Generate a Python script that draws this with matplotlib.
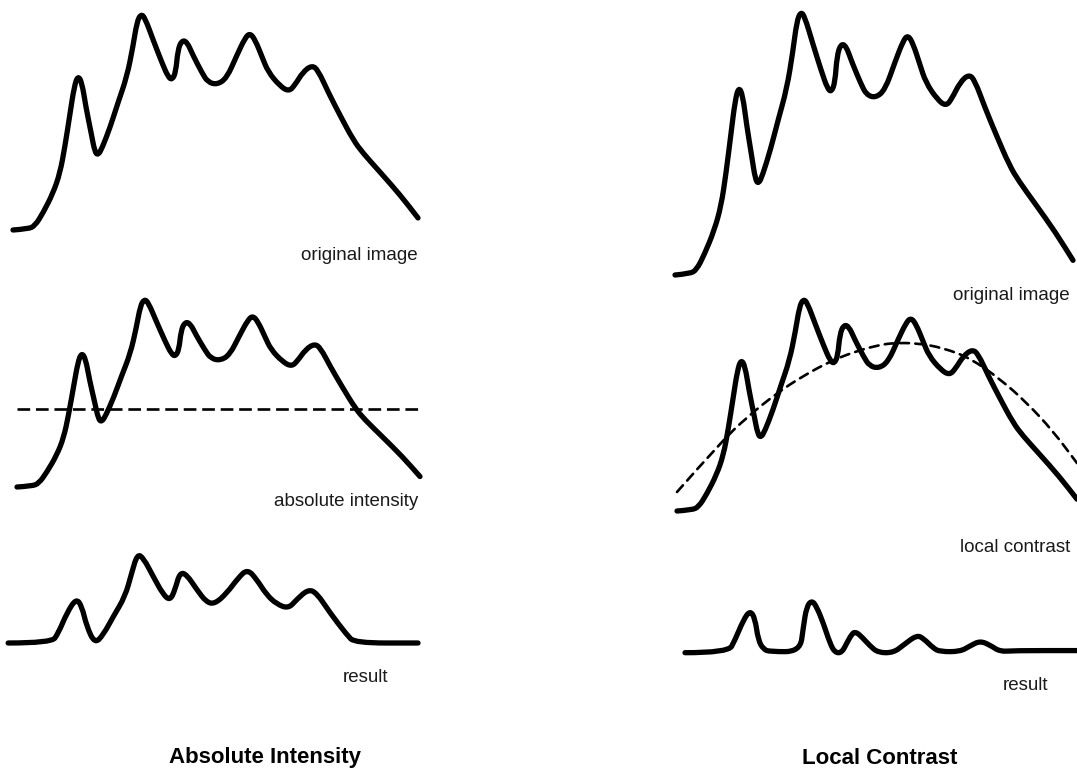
import matplotlib
matplotlib.use("Agg")
import matplotlib.pyplot as plt
from matplotlib.path import Path
from matplotlib.patches import PathPatch

plt.rcParams['font.family'] = ['Liberation Sans', 'DejaVu Sans']

# intensity profile of the "original image" (x: position 0-100, y: intensity 0-100)
profile_x = [0, 3.7, 5.4, 7.4, 9.9, 11.6, 12.8, 14.1, 15.1, 16.0, 17.0, 18.0, 19.3, 20.2,
             21.0, 22.0, 24.0, 25.9, 28.1, 29.6, 30.6, 31.6, 32.6, 34.6, 36.8, 38.3, 39.3,
             40.2, 40.7, 41.7, 43.0, 44.4, 46.7, 48.1, 50.4, 52.8, 55.3, 57.3, 58.5, 59.8,
             61.5, 63.0, 65.9, 68.1, 69.6, 71.6, 73.8, 75.3, 77.8, 80.7, 84.0, 86.4, 90.6,
             95.6, 100]
profile_y = [0, 0.5, 1.9, 7.9, 17.2, 26.5, 38.6, 54.4, 66.5, 71.8, 68.8, 57.2, 45.1, 36.3,
             34.8, 38.1, 47.9, 59.1, 71.2, 85.1, 96.8, 100.5, 98.6, 88.4, 77.7, 71.2, 69.8,
             73.5, 83.7, 88.3, 87.4, 81.4, 73.0, 68.8, 67.6, 70.7, 81.4, 89.3, 91.6, 88.4,
             80.5, 73.5, 67.0, 64.4, 67.4, 73.5, 76.6, 74.4, 64.2, 53.5, 41.9, 35.8, 27.0,
             16.3, 5.6]

# absolute intensity threshold
threshold = 41.7

# result of the absolute threshold
abs_x = [-1.2, 9.5, 11.2, 13.3, 15.6, 17.0, 18.2, 20.2, 22.3, 24.8, 27.7, 29.3, 30.7, 32.2,
         34.6, 37.1, 38.8, 40.0, 41.2, 42.9, 45.4, 47.8, 49.9, 52.8, 55.6, 57.9, 60.2, 62.6,
         65.1, 68.0, 70.0, 72.9, 75.0, 78.3, 82.4, 84.4, 100]
abs_y = [0, 0, 6.6, 19.9, 29.6, 24.3, 11.0, -0.5, 5.5, 17.7, 30.9, 46.4, 59.0, 56.3,
         44.2, 32.0, 28.2, 35.3, 46.8, 45.3, 35.3, 26.9, 26.0, 33.1, 43.1, 49.0, 42.0, 32.0,
         25.8, 22.8, 28.7, 35.6, 33.1, 19.9, 5.5, 0, 0]

# local background (smooth dashed curve)
local_x = [0, 10.75, 17.5, 25, 31.5, 39, 45.75, 50.75, 54, 60, 66.5, 73.25, 80.75, 87.5, 94, 100]
local_y = [9.0, 32.2, 44.5, 55.9, 64.0, 71.6, 76.3, 78.7, 79.6, 79.6, 77.3, 72.5, 62.6, 51.2, 37.9, 22.7]

# result of the local contrast
loc_x = [2.0, 12.8, 14.5, 16.6, 18.25, 19.5, 20.3, 21.6, 23.25, 30.75, 31.6, 32.4, 33.7, 34.9,
         36.6, 38.25, 39.5, 41.2, 42.4, 43.7, 44.5, 45.75, 48.25, 50.3, 54.1, 56.6, 59.9,
         61.6, 64.1, 65.75, 70.75, 73.25, 75.75, 78.25, 80.75, 84.1, 99.9]
loc_y = [0, 0, 6.0, 15.5, 20.0, 16.3, 6.0, 1.6, 0.5, 0.5, 12.3, 21.8, 24.8, 21.8,
         13.9, 4.4, 0, 0, 4.4, 8.8, 9.9, 8.4, 3.2, 0, 0, 3.6, 8.3,
         6.8, 2.1, 0.5, 0.5, 3.2, 5.6, 3.6, 0.5, 1.0, 1.0]

W, H = 1077, 774
fig = plt.figure(figsize=(W / 100, H / 100), dpi=100)


def panel(left, right, base, top, ymax):
    # left/right/base/top in pixels of the figure
    ax = fig.add_axes([left / W, 1 - base / H, (right - left) / W, (base - top) / H])
    ax.set_xlim(0, 100)
    ax.set_ylim(0, ymax)
    ax.axis('off')
    return ax


def curve(ax, xs, ys, **kw):
    # points are used as quadratic bezier controls so the stroke is smooth
    pts = list(zip(xs, ys))
    verts = [pts[0]]
    codes = [Path.MOVETO]
    for i in range(1, len(pts) - 1):
        mid = ((pts[i][0] + pts[i + 1][0]) / 2, (pts[i][1] + pts[i + 1][1]) / 2)
        verts += [pts[i], mid]
        codes += [Path.CURVE3, Path.CURVE3]
    verts.append(pts[-1])
    codes.append(Path.LINETO)
    patch = PathPatch(Path(verts, codes), fill=False, edgecolor='black',
                      joinstyle='round', capstyle='round', clip_on=False, **kw)
    ax.add_patch(patch)


lw = 3.8

# left column
ax = panel(13, 418, 230, 15, 100)
curve(ax, profile_x, profile_y, lw=lw)

ax = panel(17, 420, 487, 300, 100)
curve(ax, profile_x, profile_y, lw=lw)
ax.plot([0, 100], [threshold, threshold], color='black', lw=1.9, dashes=(4.8, 2.2), clip_on=False)

ax = panel(13, 418, 643, 555, 58.3)
curve(ax, abs_x, abs_y, lw=lw)

# right column
ax = panel(675, 1073, 275, 13, 100)
curve(ax, profile_x, profile_y, lw=lw)

ax = panel(677, 1077, 511, 300, 100)
curve(ax, profile_x, profile_y, lw=lw)
curve(ax, local_x, local_y, lw=1.9, linestyle=(0, (3.4, 2.4)))

ax = panel(677, 1077, 652.7, 599.9, 25)
curve(ax, loc_x, loc_y, lw=lw)

# labels
lab = dict(fontsize=13.5, color='#1a1a1a', va='center')
fig.text(418 / W, 1 - 256 / H, 'original image', ha='right', **lab)
fig.text(418 / W, 1 - 501 / H, 'absolute intensity', ha='right', **lab)
fig.text(365 / W, 1 - 678 / H, 'result', ha='center', **lab)
fig.text(1070 / W, 1 - 296 / H, 'original image', ha='right', **lab)
fig.text(1070 / W, 1 - 548 / H, 'local contrast', ha='right', **lab)
fig.text(1025 / W, 1 - 685 / H, 'result', ha='center', **lab)

fig.text(265 / W, 1 - 758 / H, 'Absolute Intensity', ha='center', va='center',
         fontsize=16, fontweight='bold')
fig.text(880 / W, 1 - 758 / H, 'Local Contrast', ha='center', va='center',
         fontsize=16, fontweight='bold')

fig.savefig('out.png', dpi=100)
